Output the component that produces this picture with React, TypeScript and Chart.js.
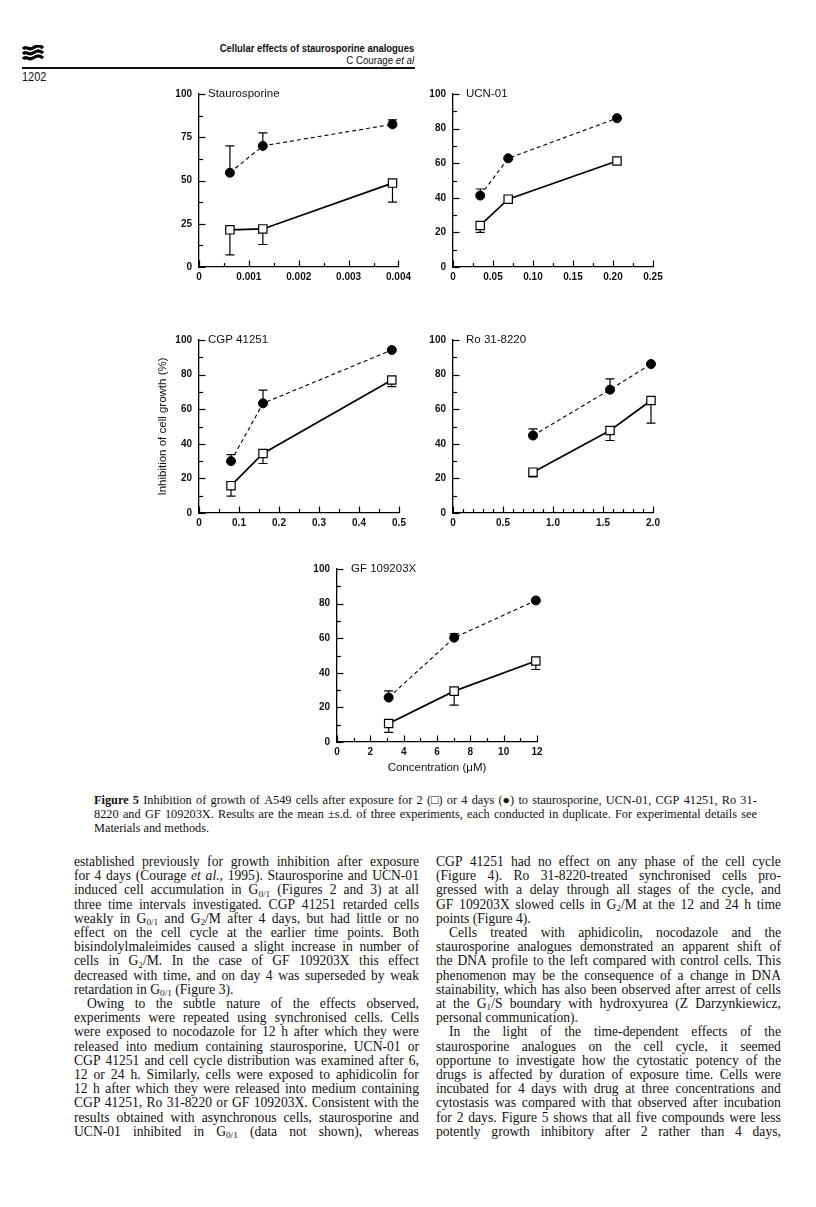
import React, { useEffect, useRef } from "react";
import { Chart, registerables } from "chart.js";

Chart.register(...registerables);

// ---------------- DATA ----------------
// Staurosporine (concentration, µM)
const stauroConc = [0.00062, 0.00128, 0.00388];
const stauro2d = [21.5, 22, 48.5];
const stauro2dSD = [14.5, 9, 11];
const stauro4d = [54.5, 70, 82.5];
const stauro4dSD = [15.5, 7.5, 2.5];
const stauroTickValues = [0, 0.001, 0.002, 0.003, 0.004];
const stauroTickLabels = ["0", "0.001", "0.002", "0.003", "0.004"];

// UCN-01
const ucnConc = [0.034, 0.069, 0.205];
const ucn2d = [24, 39.2, 61.3];
const ucn2dSD = [4, 0, 0];
const ucn4d = [41.3, 62.8, 86];
const ucn4dSD = [3.8, 0, 0];
const ucnTickValues = [0, 0.05, 0.1, 0.15, 0.2, 0.25];
const ucnTickLabels = ["0", "0.05", "0.10", "0.15", "0.20", "0.25"];

// CGP 41251
const cgpConc = [0.08, 0.16, 0.482];
const cgp2d = [15.8, 34.4, 76.9];
const cgp2dSD = [6, 5.8, 3.9];
const cgp4d = [30, 63.4, 94.2];
const cgp4dSD = [3.8, 7.6, 0];
const cgpTickValues = [0, 0.1, 0.2, 0.3, 0.4, 0.5];
const cgpTickLabels = ["0", "0.1", "0.2", "0.3", "0.4", "0.5"];

// Ro 31-8220
const roConc = [0.8, 1.57, 1.98];
const ro2d = [23.6, 47.7, 65];
const ro2dSD = [2.8, 5.8, 13.1];
const ro4d = [44.8, 71.3, 86.1];
const ro4dSD = [3.8, 6.2, 0];
const roTickValues = [0, 0.5, 1, 1.5, 2];
const roTickLabels = ["0", "0.5", "1.0", "1.5", "2.0"];

// GF 109203X
const gfConc = [3.1, 7.03, 11.93];
const gf2d = [10.7, 29.4, 46.8];
const gf2dSD = [5.1, 8.1, 4.9];
const gf4d = [25.7, 60.3, 81.8];
const gf4dSD = [3.8, 2.3, 0];
const gfTickValues = [0, 2, 4, 6, 8, 10, 12];
const gfTickLabels = ["0", "2", "4", "6", "8", "10", "12"];

const yTicks25 = [0, 25, 50, 75, 100];
const yLabels25 = ["0", "25", "50", "75", "100"];
const yTicks20 = [0, 20, 40, 60, 80, 100];
const yLabels20 = ["0", "20", "40", "60", "80", "100"];

// ---------------- TEXT ----------------
const headerTitle = "Cellular effects of staurosporine analogues";
const pageNumber = "1202";

const captionLines = [
  "#Figure# #5#  Inhibition of growth of A549 cells after exposure for 2 (□) or 4 days (●) to staurosporine, UCN-01, CGP 41251, Ro 31-",
  "8220 and GF 109203X. Results are the mean ±s.d. of three experiments, each conducted in duplicate. For experimental details see",
  "Materials and methods.",
];
const captionJustify = [true, true, false];

const leftColumn = [
  "established previously for growth inhibition after exposure",
  "for 4 days (Courage *et* *al.*, 1995). Staurosporine and UCN-01",
  "induced cell accumulation in G_{0/1} (Figures 2 and 3) at all",
  "three time intervals investigated. CGP 41251 retarded cells",
  "weakly in G_{0/1} and G_{2}/M after 4 days, but had little or no",
  "effect on the cell cycle at the earlier time points. Both",
  "bisindolylmaleimides caused a slight increase in number of",
  "cells in G_{2}/M. In the case of GF 109203X this effect",
  "decreased with time, and on day 4 was superseded by weak",
  "retardation in G_{0/1} (Figure 3).",
  "Owing to the subtle nature of the effects observed,",
  "experiments were repeated using synchronised cells. Cells",
  "were exposed to nocodazole for 12 h after which they were",
  "released into medium containing staurosporine, UCN-01 or",
  "CGP 41251 and cell cycle distribution was examined after 6,",
  "12 or 24 h. Similarly, cells were exposed to aphidicolin for",
  "12 h after which they were released into medium containing",
  "CGP 41251, Ro 31-8220 or GF 109203X. Consistent with the",
  "results obtained with asynchronous cells, staurosporine and",
  "UCN-01 inhibited in G_{0/1} (data not shown), whereas",
];
const leftEnds = [9];
const leftIndents = [10];

const rightColumn = [
  "CGP 41251 had no effect on any phase of the cell cycle",
  "(Figure 4). Ro 31-8220-treated synchronised cells pro-",
  "gressed with a delay through all stages of the cycle, and",
  "GF 109203X slowed cells in G_{2}/M at the 12 and 24 h time",
  "points (Figure 4).",
  "Cells treated with aphidicolin, nocodazole and the",
  "staurosporine analogues demonstrated an apparent shift of",
  "the DNA profile to the left compared with control cells. This",
  "phenomenon may be the consequence of a change in DNA",
  "stainability, which has also been observed after arrest of cells",
  "at the G_{1}/S boundary with hydroxyurea (Z Darzynkiewicz,",
  "personal communication).",
  "In the light of the time-dependent effects of the",
  "staurosporine analogues on the cell cycle, it seemed",
  "opportune to investigate how the cytostatic potency of the",
  "drugs is affected by duration of exposure time. Cells were",
  "incubated for 4 days with drug at three concentrations and",
  "cytostasis was compared with that observed after incubation",
  "for 2 days. Figure 5 shows that all five compounds were less",
  "potently growth inhibitory after 2 rather than 4 days,",
];
const rightEnds = [4, 11];
const rightIndents = [5, 12];

// ---------------- LAYOUT / STYLE ----------------
const SERIF = '"Liberation Serif", "Times New Roman", serif';
const SANS = '"Liberation Sans", Arial, Helvetica, sans-serif';
const PLOT_W = 200;
const PLOT_H = 174;

type PanelSpec = {
  name: string;
  conc: number[];
  twoDay: number[];
  twoDaySD: number[];
  fourDay: number[];
  fourDaySD: number[];
  xMax: number;
  xStep: number;
  xTicks: number[];
  xTickLabels: string[];
  yStep: number;
  yTicks: number[];
  yTickLabels: string[];
  xTitle?: string;
  yTitle?: string;
  left: number;
  top: number;
  titleDx: number;
};

const PANELS: PanelSpec[] = [
  {
    name: "Staurosporine",
    conc: stauroConc, twoDay: stauro2d, twoDaySD: stauro2dSD, fourDay: stauro4d, fourDaySD: stauro4dSD,
    xMax: 0.004, xStep: 0.0005, xTicks: stauroTickValues, xTickLabels: stauroTickLabels,
    yStep: 12.5, yTicks: yTicks25, yTickLabels: yLabels25,
    left: 199, top: 93, titleDx: 9,
  },
  {
    name: "UCN-01",
    conc: ucnConc, twoDay: ucn2d, twoDaySD: ucn2dSD, fourDay: ucn4d, fourDaySD: ucn4dSD,
    xMax: 0.25, xStep: 0.025, xTicks: ucnTickValues, xTickLabels: ucnTickLabels,
    yStep: 10, yTicks: yTicks20, yTickLabels: yLabels20,
    left: 453, top: 93, titleDx: 13,
  },
  {
    name: "CGP 41251",
    conc: cgpConc, twoDay: cgp2d, twoDaySD: cgp2dSD, fourDay: cgp4d, fourDaySD: cgp4dSD,
    xMax: 0.5, xStep: 0.05, xTicks: cgpTickValues, xTickLabels: cgpTickLabels,
    yStep: 10, yTicks: yTicks20, yTickLabels: yLabels20,
    yTitle: "Inhibition of cell growth (%)",
    left: 199, top: 339, titleDx: 9,
  },
  {
    name: "Ro 31-8220",
    conc: roConc, twoDay: ro2d, twoDaySD: ro2dSD, fourDay: ro4d, fourDaySD: ro4dSD,
    xMax: 2, xStep: 0.1, xTicks: roTickValues, xTickLabels: roTickLabels,
    yStep: 10, yTicks: yTicks20, yTickLabels: yLabels20,
    left: 453, top: 339, titleDx: 13,
  },
  {
    name: "GF 109203X",
    conc: gfConc, twoDay: gf2d, twoDaySD: gf2dSD, fourDay: gf4d, fourDaySD: gf4dSD,
    xMax: 12, xStep: 1, xTicks: gfTickValues, xTickLabels: gfTickLabels,
    yStep: 10, yTicks: yTicks20, yTickLabels: yLabels20,
    xTitle: "Concentration (μM)",
    left: 337, top: 568, titleDx: 14,
  },
];

function labelFor(v: number, values: number[], labels: string[], step: number): string {
  for (let i = 0; i < values.length; i++) {
    if (Math.abs(v - values[i]) < step * 0.01) return labels[i];
  }
  return "";
}

function Panel({ spec }: { spec: PanelSpec }) {
  const ref = useRef<HTMLCanvasElement | null>(null);
  const PL = 44;
  const PT = 12;
  const PR = 16;
  const PB = spec.xTitle ? 34 : 24;
  const W = PL + PLOT_W + PR;
  const H = PT + PLOT_H + PB;

  useEffect(() => {
    const canvas = ref.current;
    if (!canvas) return;
    const tickFont = { family: SANS, size: 10, weight: "bold" as const };
    const titleFont = { family: SANS, size: 11.5 };

    const overlay = {
      id: "overlay",
      beforeDatasetsDraw(chart: any) {
        const ctx = chart.ctx;
        const xs = chart.scales.x;
        const ys = chart.scales.y;
        ctx.save();
        ctx.strokeStyle = "#000";
        ctx.lineWidth = 1.2;
        const bar = (x: number, v: number, d: number) => {
          if (!d) return;
          const px = xs.getPixelForValue(x);
          const p0 = ys.getPixelForValue(v);
          const p1 = ys.getPixelForValue(v + d);
          ctx.beginPath();
          ctx.moveTo(px, p0);
          ctx.lineTo(px, p1);
          ctx.moveTo(px - 4.5, p1);
          ctx.lineTo(px + 4.5, p1);
          ctx.stroke();
        };
        spec.conc.forEach((c, i) => {
          bar(c, spec.twoDay[i], -spec.twoDaySD[i]);
          bar(c, spec.fourDay[i], spec.fourDaySD[i]);
        });
        ctx.restore();
      },
      afterDraw(chart: any) {
        const ctx = chart.ctx;
        const xs = chart.scales.x;
        const ys = chart.scales.y;
        const area = chart.chartArea;
        ctx.save();
        ctx.strokeStyle = "#000";
        ctx.lineWidth = 1.2;
        xs.ticks.forEach((t: any) => {
          const major = labelFor(t.value, spec.xTicks, spec.xTickLabels, spec.xStep) !== "";
          const px = Math.round(xs.getPixelForValue(t.value)) + 0.5;
          const len = major ? 6.5 : 4;
          ctx.beginPath();
          ctx.moveTo(px, area.bottom);
          ctx.lineTo(px, area.bottom - len);
          ctx.stroke();
        });
        ys.ticks.forEach((t: any) => {
          const major = labelFor(t.value, spec.yTicks, spec.yTickLabels, spec.yStep) !== "";
          const py = Math.round(ys.getPixelForValue(t.value)) + 0.5;
          const len = major ? 6.5 : 4;
          ctx.beginPath();
          ctx.moveTo(area.left, py);
          ctx.lineTo(area.left + len, py);
          ctx.stroke();
        });
        ctx.fillStyle = "#111";
        ctx.font = `${titleFont.size}px ${SANS}`;
        ctx.textAlign = "left";
        ctx.textBaseline = "middle";
        ctx.fillText(spec.name, area.left + spec.titleDx, ys.getPixelForValue(100));
        ctx.restore();
      },
    };

    const chart = new Chart(canvas, {
      type: "scatter",
      data: {
        datasets: [
          {
            label: "2 days",
            data: spec.conc.map((x, i) => ({ x, y: spec.twoDay[i] })),
            showLine: true,
            clip: false,
            borderColor: "#000",
            borderWidth: 1.7,
            pointStyle: "rect",
            pointRadius: 5.9,
            pointBackgroundColor: "#fff",
            pointBorderColor: "#000",
            pointBorderWidth: 1.2,
            order: 1,
          },
          {
            label: "4 days",
            data: spec.conc.map((x, i) => ({ x, y: spec.fourDay[i] })),
            showLine: true,
            clip: false,
            borderColor: "#000",
            borderWidth: 1.1,
            borderDash: [4, 3],
            pointStyle: "circle",
            pointRadius: 4.5,
            pointBackgroundColor: "#000",
            pointBorderColor: "#000",
            pointBorderWidth: 1,
            order: 0,
          },
        ],
      },
      options: {
        responsive: false,
        animation: false,
        events: [],
        layout: { padding: { left: 0, top: PT, right: PR, bottom: 0 } },
        plugins: {
          legend: { display: false },
          tooltip: { enabled: false },
          title: { display: false },
        },
        scales: {
          x: {
            type: "linear",
            position: "bottom",
            min: 0,
            max: spec.xMax,
            grid: { display: true, drawOnChartArea: false, drawTicks: false },
            border: { display: true, color: "#000", width: 1.3 },
            ticks: {
              stepSize: spec.xStep,
              autoSkip: false,
              maxTicksLimit: 100,
              maxRotation: 0,
              minRotation: 0,
              padding: 4,
              color: "#111",
              font: tickFont,
              callback: (v: any) => labelFor(Number(v), spec.xTicks, spec.xTickLabels, spec.xStep),
            },
            title: spec.xTitle
              ? { display: true, text: spec.xTitle, color: "#111", font: titleFont, padding: { top: 0, bottom: 1 } }
              : { display: false },
            afterFit: (s: any) => {
              s.height = PB;
            },
          },
          y: {
            type: "linear",
            position: "left",
            min: 0,
            max: 100,
            grid: { display: true, drawOnChartArea: false, drawTicks: false },
            border: { display: true, color: "#000", width: 1.3 },
            ticks: {
              stepSize: spec.yStep,
              autoSkip: false,
              maxTicksLimit: 100,
              padding: 7,
              color: "#111",
              font: tickFont,
              callback: (v: any) => labelFor(Number(v), spec.yTicks, spec.yTickLabels, spec.yStep),
            },
            title: spec.yTitle
              ? { display: true, text: spec.yTitle, color: "#111", font: titleFont, padding: { top: 1, bottom: 0 } }
              : { display: false },
            afterFit: (s: any) => {
              s.width = PL;
            },
          },
        },
      } as any,
      plugins: [overlay],
    });
    return () => chart.destroy();
  }, []);

  return (
    <canvas
      ref={ref}
      width={W}
      height={H}
      style={{ position: "absolute", left: spec.left - PL, top: spec.top - PT, width: W, height: H }}
    />
  );
}

function renderWord(w: string, key: number) {
  const out: React.ReactNode[] = [];
  let i = 0;
  let buf = "";
  let italic = false;
  let bold = false;
  let k = 0;
  const flush = () => {
    if (buf) {
      out.push(
        <span key={k++} style={{ fontStyle: italic ? "italic" : undefined, fontWeight: bold ? "bold" : undefined }}>
          {buf}
        </span>
      );
      buf = "";
    }
  };
  while (i < w.length) {
    const ch = w[i];
    if (ch === "*") { flush(); italic = !italic; i++; continue; }
    if (ch === "#") { flush(); bold = !bold; i++; continue; }
    if (ch === "_" && w[i + 1] === "{") {
      flush();
      const end = w.indexOf("}", i);
      out.push(
        <span key={k++} style={{ fontSize: "0.68em", position: "relative", top: "0.28em" }}>
          {w.slice(i + 2, end)}
        </span>
      );
      i = end + 1;
      continue;
    }
    buf += ch;
    i++;
  }
  flush();
  return (
    <span key={key} style={{ whiteSpace: "nowrap" }}>
      {out}
    </span>
  );
}

function TextLine(props: { text: string; x: number; y: number; w: number; size: number; lh: number; justify: boolean; indent?: number }) {
  const { text, x, y, w, size, lh, justify, indent } = props;
  const words = text.split(" ").filter(Boolean);
  return (
    <div
      style={{
        position: "absolute",
        left: x,
        top: y - lh / 2,
        width: w,
        height: lh,
        lineHeight: lh + "px",
        fontSize: size,
        fontFamily: SERIF,
        color: "#111",
        display: "flex",
        justifyContent: justify ? "space-between" : "flex-start",
        columnGap: justify ? 2 : size * 0.25,
        paddingLeft: indent || 0,
        boxSizing: "border-box",
        whiteSpace: "nowrap",
      }}
    >
      {words.map(renderWord)}
    </div>
  );
}

function Logo() {
  return (
    <svg width={22} height={18} viewBox="0 0 22 18" style={{ position: "absolute", left: 22, top: 45 }}>
      {[0, 1, 2].map((j) => (
        <path
          key={j}
          d={`M1,${4 + j * 5} C4,${0 + j * 5} 7,${6 + j * 5} 11,${3 + j * 5} S18,${0 + j * 5} 21,${3 + j * 5}`}
          stroke="#000"
          strokeWidth={3.2}
          fill="none"
        />
      ))}
    </svg>
  );
}

export default function App() {
  const BODY_Y0 = 862;
  const BODY_LH = 14.2;
  return (
    <div style={{ position: "absolute", left: 0, top: 0, width: 816, height: 1207, background: "#fff", overflow: "hidden" }}>
      <Logo />
      <div
        style={{
          position: "absolute", right: 816 - 414, top: 41, fontFamily: SANS, fontWeight: "bold", fontSize: 11,
          whiteSpace: "nowrap", transform: "scaleX(0.86)", transformOrigin: "right center", color: "#111", lineHeight: "14px",
        }}
      >
        {headerTitle}
      </div>
      <div
        style={{
          position: "absolute", right: 816 - 414, top: 53, fontFamily: SANS, fontSize: 11,
          whiteSpace: "nowrap", transform: "scaleX(0.88)", transformOrigin: "right center", color: "#111", lineHeight: "14px",
        }}
      >
        C Courage <i>et al</i>
      </div>
      <div style={{ position: "absolute", left: 22, top: 67, width: 393, height: 2, background: "#111" }} />
      <div
        style={{
          position: "absolute", left: 22, top: 70, fontFamily: SANS, fontSize: 12.5, lineHeight: "14px",
          transform: "scaleX(0.88)", transformOrigin: "left center", color: "#111",
        }}
      >
        {pageNumber}
      </div>

      {PANELS.map((p) => (
        <Panel key={p.name} spec={p} />
      ))}

      {captionLines.map((t, i) => (
        <TextLine key={"c" + i} text={t} x={94} y={800 + i * 14} w={663} size={12.3} lh={14} justify={captionJustify[i]} />
      ))}

      {leftColumn.map((t, i) => (
        <TextLine
          key={"l" + i}
          text={t}
          x={74}
          y={BODY_Y0 + i * BODY_LH}
          w={345}
          size={13.6}
          lh={BODY_LH}
          justify={!leftEnds.includes(i)}
          indent={leftIndents.includes(i) ? 13 : 0}
        />
      ))}
      {rightColumn.map((t, i) => (
        <TextLine
          key={"r" + i}
          text={t}
          x={436}
          y={BODY_Y0 + i * BODY_LH}
          w={345}
          size={13.6}
          lh={BODY_LH}
          justify={!rightEnds.includes(i)}
          indent={rightIndents.includes(i) ? 13 : 0}
        />
      ))}
    </div>
  );
}
